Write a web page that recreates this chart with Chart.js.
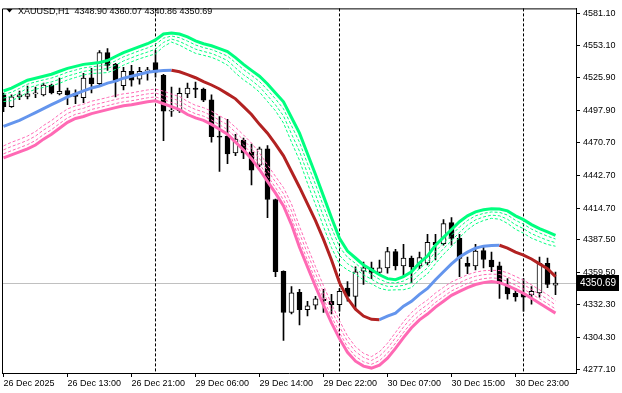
<!DOCTYPE html>
<html lang="en">
<head>
<meta charset="UTF-8">
<title>XAUUSD,H1</title>
<script src="https://cdn.jsdelivr.net/npm/chart.js"></script>
<style>
  html, body { margin: 0; padding: 0; background: #fff; }
</style>
</head>
<body>
<canvas id="chart" width="622" height="393"></canvas>
<script>
// ---- data ----
const symbol = 'XAUUSD,H1';

const opens = [
  4511.3, 4501.2, 4509.6, 4510.0, 4512.1, 4511.3, 4519.7, 4512.1, 4515.0, 4512.5,
  4508.8, 4525.9, 4520.9, 4547.3, 4537.3, 4519.2, 4531.4, 4524.7, 4531.8, 4538.9,
  4528.0, 4497.4, 4497.9, 4512.1, 4517.1, 4516.3, 4507.1, 4476.1, 4476.1, 4461.8,
  4472.7, 4462.2, 4451.3, 4465.2, 4422.0, 4360.8, 4325.6, 4342.8, 4328.1, 4331.9,
  4336.9, 4335.2, 4332.3, 4346.5, 4339.4, 4360.8, 4363.7, 4359.9, 4363.7, 4377.5,
  4365.4, 4372.1, 4365.4, 4367.9, 4385.5, 4384.3, 4402.3, 4388.9, 4367.5, 4365.4,
  4378.4, 4370.4, 4365.4, 4349.0, 4341.9, 4341.9, 4340.7, 4342.3, 4367.5, 4348.90
];
const highs = [
  4512.9, 4511.3, 4514.6, 4518.8, 4518.0, 4521.3, 4520.5, 4525.5, 4517.1, 4515.5,
  4529.7, 4533.9, 4549.0, 4550.7, 4538.1, 4534.7, 4536.4, 4534.7, 4534.7, 4549.0,
  4528.9, 4518.0, 4517.1, 4521.3, 4522.2, 4517.1, 4511.3, 4492.8, 4490.3, 4477.7,
  4474.4, 4469.3, 4466.8, 4468.1, 4422.4, 4361.2, 4347.8, 4345.3, 4335.2, 4339.4,
  4345.3, 4341.1, 4346.1, 4352.0, 4364.5, 4368.7, 4368.7, 4370.4, 4381.3, 4379.6,
  4383.8, 4373.8, 4377.1, 4392.2, 4392.2, 4404.8, 4406.5, 4392.2, 4372.9, 4383.8,
  4383.0, 4377.1, 4368.7, 4354.5, 4346.1, 4354.5, 4347.8, 4372.9, 4372.1, 4360.07
];
const lows = [
  4497.0, 4500.6, 4507.1, 4507.9, 4508.8, 4510.4, 4512.1, 4511.3, 4502.9, 4503.7,
  4504.6, 4512.9, 4519.7, 4532.2, 4509.6, 4515.5, 4518.8, 4520.5, 4523.8, 4526.4,
  4472.3, 4492.8, 4496.2, 4508.8, 4508.8, 4505.4, 4471.0, 4445.9, 4452.6, 4459.3,
  4456.8, 4434.4, 4450.1, 4406.5, 4356.2, 4301.7, 4324.3, 4315.1, 4322.6, 4328.5,
  4325.6, 4324.3, 4326.8, 4335.2, 4328.5, 4349.5, 4354.5, 4357.8, 4359.1, 4362.0,
  4357.0, 4351.1, 4362.9, 4366.2, 4370.4, 4383.0, 4383.0, 4356.2, 4358.7, 4362.0,
  4363.7, 4360.4, 4337.7, 4336.9, 4335.2, 4326.8, 4332.7, 4338.6, 4346.9, 4340.86
];
const closes = [
  4501.2, 4509.6, 4511.3, 4512.1, 4512.9, 4519.7, 4512.9, 4514.2, 4511.3, 4510.0,
  4525.5, 4520.9, 4547.3, 4536.4, 4522.6, 4531.4, 4523.8, 4531.4, 4532.2, 4530.6,
  4497.4, 4498.3, 4512.5, 4517.1, 4515.9, 4506.7, 4475.6, 4475.2, 4461.0, 4473.5,
  4461.8, 4447.1, 4465.2, 4422.0, 4360.4, 4325.6, 4342.3, 4328.1, 4331.4, 4337.3,
  4335.6, 4332.3, 4343.6, 4339.4, 4360.4, 4363.7, 4359.9, 4363.7, 4377.5, 4365.4,
  4372.1, 4364.5, 4372.5, 4385.5, 4383.4, 4401.4, 4388.9, 4371.7, 4365.0, 4378.0,
  4370.8, 4364.5, 4350.3, 4341.5, 4339.0, 4338.6, 4343.6, 4367.5, 4349.5, 4350.69
];

// channel: middle line, upper and lower band
const midLine = [
  4484.4, 4487.0, 4489.5, 4492.8, 4496.2, 4499.5, 4502.9, 4506.2, 4509.6, 4512.0,
  4514.6, 4517.1, 4518.8, 4521.3, 4523.0, 4525.5, 4527.2, 4528.9, 4530.6, 4531.4,
  4532.0, 4532.3, 4531.0, 4528.5, 4525.9, 4522.6, 4519.7, 4516.3, 4512.1, 4507.9,
  4501.2, 4494.5, 4486.1, 4478.6, 4469.3, 4459.3, 4445.9, 4432.5, 4418.2, 4404.0,
  4388.0, 4370.4, 4351.1, 4337.7, 4328.5, 4322.6, 4319.8, 4319.5, 4322.6, 4325.1,
  4331.0, 4335.2, 4341.1, 4346.1, 4353.6, 4360.4, 4367.1, 4372.9, 4377.1, 4380.5,
  4382.2, 4382.8, 4383.0, 4380.5, 4377.1, 4374.6, 4371.3, 4367.1, 4362.9, 4356.2
];
const upperBand = [
  4514.6, 4517.1, 4520.5, 4523.8, 4525.5, 4527.2, 4528.9, 4531.4, 4533.9, 4535.6,
  4537.3, 4538.1, 4538.9, 4540.6, 4544.0, 4547.3, 4549.8, 4552.4, 4554.9, 4558.2,
  4563.2, 4564.1, 4563.2, 4560.7, 4557.4, 4554.9, 4553.2, 4550.7, 4548.2, 4543.1,
  4537.3, 4532.2, 4527.2, 4520.5, 4512.9, 4505.4, 4492.0, 4478.6, 4461.0, 4443.4,
  4424.9, 4406.5, 4388.9, 4378.0, 4372.1, 4366.2, 4362.0, 4357.8, 4354.5, 4353.6,
  4356.2, 4360.4, 4367.9, 4373.8, 4383.0, 4389.7, 4396.4, 4403.1, 4408.1, 4411.5,
  4413.2, 4414.1, 4413.9, 4412.3, 4408.1, 4404.8, 4400.6, 4397.2, 4394.3, 4391.4
];
const lowerBand = [
  4457.6, 4460.1, 4462.6, 4465.2, 4468.5, 4473.5, 4477.7, 4482.8, 4487.8, 4491.1,
  4492.8, 4495.3, 4497.0, 4498.7, 4500.4, 4502.0, 4502.9, 4504.1, 4505.4, 4506.2,
  4503.7, 4501.2, 4498.7, 4494.5, 4491.6, 4489.5, 4486.1, 4481.9, 4477.7, 4471.0,
  4464.3, 4456.8, 4447.6, 4437.5, 4427.4, 4416.5, 4400.6, 4381.3, 4364.5, 4347.8,
  4331.9, 4316.8, 4303.3, 4291.6, 4284.1, 4279.9, 4278.2, 4280.7, 4286.6, 4295.0,
  4304.2, 4312.6, 4319.3, 4324.3, 4330.2, 4335.2, 4340.2, 4343.6, 4346.9, 4349.5,
  4351.1, 4352.0, 4351.1, 4348.6, 4345.3, 4341.9, 4337.7, 4333.5, 4329.3, 4325.1
];

const xTickBars = [0, 8, 16, 24, 32, 40, 48, 56, 64];
const xTickLabels = ['26 Dec 2025', '26 Dec 13:00', '26 Dec 21:00', '29 Dec 06:00', '29 Dec 14:00',
                     '29 Dec 22:00', '30 Dec 07:00', '30 Dec 15:00', '30 Dec 23:00'];
const yTicks = [4277.10, 4304.30, 4332.30, 4359.50, 4387.50, 4414.70, 4442.70,
                4470.70, 4497.90, 4525.90, 4553.10, 4581.10];
const separatorBars = [19, 42, 65]; // day separators

// ---- styling ----
const GREEN = '#00FF7F', PINK = '#FF69B4', BLUE = '#6495ED', RED = '#B22222';
const FONT = '"Liberation Sans", Arial, sans-serif';
const last = closes.length - 1;

// the faint dashed copies of each band sit a little inside it, wider apart where the band moves fast
function innerBand(band, k, dir, base, factor) {
  return band.map((v, i) => {
    const a = band[Math.max(i - 1, 0)], b = band[Math.min(i + 1, band.length - 1)];
    const move = Math.abs(b - a) / 2;
    return {x: i, y: v + dir * k * (base + factor * move)};
  });
}

const datasets = [];

// solid channel lines on top
datasets.push({
  type: 'line', data: upperBand.map((v, i) => ({x: i, y: v})),
  borderColor: GREEN, borderWidth: 3, pointRadius: 0, order: 1
});
datasets.push({
  type: 'line', data: lowerBand.map((v, i) => ({x: i, y: v})),
  borderColor: PINK, borderWidth: 3, pointRadius: 0, order: 1
});
datasets.push({
  type: 'line', data: midLine.map((v, i) => ({x: i, y: v})),
  borderColor: BLUE, borderWidth: 3, pointRadius: 0, order: 1,
  segment: { borderColor: c => c.p1.parsed.y > c.p0.parsed.y ? BLUE : RED }
});

for (let k = 1; k <= 3; k++) {
  datasets.push({
    type: 'line', data: innerBand(upperBand, k, -1, 2.6, 0.33),
    borderColor: GREEN, borderWidth: 1, borderDash: [3, 2], pointRadius: 0, order: 2
  });
  datasets.push({
    type: 'line', data: innerBand(lowerBand, k, 1, 3.2, 0.15),
    borderColor: PINK, borderWidth: 1, borderDash: [3, 2], pointRadius: 0, order: 2
  });
}

// candle bodies
datasets.push({
  type: 'bar',
  data: opens.map((o, i) => ({x: i, y: [o, closes[i]]})),
  backgroundColor: opens.map((o, i) => closes[i] >= o ? '#ffffff' : '#000000'),
  borderColor: '#000000', borderWidth: 1, borderSkipped: false,
  barThickness: 5, grouped: false, minBarLength: 1, order: 4
});
// wicks
datasets.push({
  type: 'bar',
  data: lows.map((l, i) => ({x: i, y: [l, highs[i]]})),
  backgroundColor: '#000000', borderWidth: 0,
  barThickness: 1, grouped: false, order: 5
});

const overlay = {
  id: 'overlay',
  beforeDatasetsDraw(chart) {
    const {ctx, chartArea: a, scales: {x, y}} = chart;
    ctx.save();
    const py = Math.round(y.getPixelForValue(closes[last])) + 0.5;
    ctx.strokeStyle = '#c0c0c0';
    ctx.lineWidth = 1;
    ctx.beginPath(); ctx.moveTo(a.left, py); ctx.lineTo(a.right, py); ctx.stroke();

    ctx.strokeStyle = '#000';
    ctx.setLineDash([3, 2]);
    separatorBars.forEach(b => {
      const px = Math.floor(x.getPixelForValue(b)) + 0.5;
      ctx.beginPath(); ctx.moveTo(px, a.top); ctx.lineTo(px, a.bottom); ctx.stroke();
    });
    ctx.restore();
  },
  afterDraw(chart) {
    const {ctx, chartArea: a, scales: {y}} = chart;
    ctx.save();
    // frame on the left and top
    ctx.strokeStyle = '#000';
    ctx.lineWidth = 1;
    ctx.beginPath();
    ctx.moveTo(a.left + 0.5, a.bottom); ctx.lineTo(a.left + 0.5, a.top + 0.5); ctx.lineTo(a.right, a.top + 0.5);
    ctx.stroke();

    // symbol + OHLC of the last bar
    ctx.fillStyle = '#000';
    ctx.beginPath(); ctx.moveTo(6.5, 9); ctx.lineTo(12.5, 9); ctx.lineTo(9.5, 12.5); ctx.closePath(); ctx.fill();
    ctx.font = '9px ' + FONT;
    ctx.textBaseline = 'alphabetic';
    const ohlc = [opens[last], highs[last], lows[last], closes[last]].map(v => v.toFixed(2)).join(' ');
    ctx.fillText(symbol + '  ' + ohlc, 18, 14);

    // current price tag on the axis
    const py = Math.round(y.getPixelForValue(closes[last]));
    ctx.fillRect(a.right + 1, py - 8, 42, 16);
    ctx.fillStyle = '#fff';
    ctx.font = '10px ' + FONT;
    ctx.textBaseline = 'middle';
    ctx.fillText(closes[last].toFixed(2), a.right + 4, py + 0.5);
    ctx.restore();
  }
};

new Chart(document.getElementById('chart'), {
  type: 'line',
  data: { datasets },
  options: {
    responsive: false,
    animation: false,
    devicePixelRatio: 1,
    events: [],
    layout: { padding: { left: 2, top: 2, right: 0, bottom: 0 } },
    plugins: { legend: { display: false }, tooltip: { enabled: false }, title: { display: false } },
    scales: {
      x: {
        type: 'linear', offset: false,
        min: -0.1875, max: 71.5625,
        afterBuildTicks: s => { s.ticks = xTickBars.map(v => ({value: v})); },
        afterFit: s => { s.height = 20; },
        grid: { drawOnChartArea: false, drawTicks: true, tickLength: 4, color: '#000', offset: false },
        border: { display: true, color: '#000', width: 1 },
        ticks: {
          autoSkip: false, maxRotation: 0, minRotation: 0, align: 'start', padding: 1,
          color: '#000', font: { family: FONT, size: 9 },
          callback: (v, i) => xTickLabels[i]
        }
      },
      y: {
        type: 'linear', position: 'right', beginAtZero: false,
        min: 4274.0, max: 4585.04,
        afterBuildTicks: s => { s.ticks = yTicks.map(v => ({value: v})); },
        afterFit: s => { s.width = 46; },
        grid: { drawOnChartArea: false, drawTicks: true, tickLength: 4, color: '#000' },
        border: { display: true, color: '#000', width: 1 },
        ticks: {
          autoSkip: false, padding: 3, color: '#000', font: { family: FONT, size: 9 },
          callback: v => Number(v).toFixed(2)
        }
      }
    }
  },
  plugins: [overlay]
});
</script>
</body>
</html>
